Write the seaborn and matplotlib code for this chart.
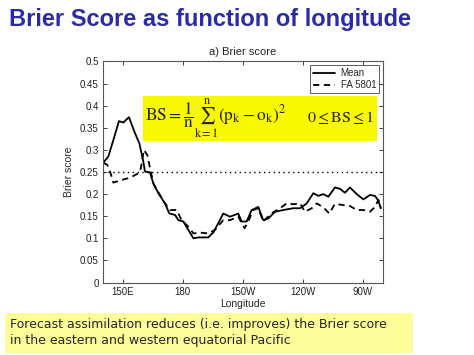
import numpy as np
import pandas as pd
import matplotlib.pyplot as plt
import seaborn as sns
from matplotlib.patches import Rectangle

# longitude in degrees east
lon_mean = [140.3, 142.8, 145.3, 148.1, 150.3, 153.1, 156.1, 158.3, 160.3, 161.1,
            163.6, 165.3, 167.8, 171.1, 173.3, 176.1, 177.8, 180.3, 183.3, 185.3,
            187.8, 192.7, 195.2, 197.7, 200.2, 203.6, 207.7, 209.4, 211.9, 214.4,
            217.7, 220.2, 222.7, 226.1, 230.2, 235.2, 238.6, 241.9, 245.2, 247.7,
            250.2, 252.7, 256.0, 258.5, 261.0, 263.5, 266.9, 270.2, 273.5, 276.0,
            277.7, 278.9]
bs_mean = [0.271, 0.285, 0.322, 0.365, 0.362, 0.374, 0.338, 0.315, 0.273, 0.251,
           0.249, 0.224, 0.202, 0.179, 0.156, 0.153, 0.141, 0.138, 0.115, 0.100,
           0.102, 0.102, 0.113, 0.134, 0.156, 0.149, 0.156, 0.138, 0.138, 0.164,
           0.171, 0.141, 0.145, 0.160, 0.164, 0.168, 0.168, 0.179, 0.202, 0.196,
           0.200, 0.194, 0.215, 0.212, 0.203, 0.215, 0.200, 0.188, 0.198, 0.196,
           0.185, 0.168]

lon_fa = [140.3, 142.3, 143.7, 145.3, 149.5, 153.6, 157.8, 159.0, 160.6, 162.3,
          163.3, 165.3, 168.6, 171.1, 173.6, 176.9, 179.4, 182.8, 185.3, 188.6,
          192.7, 196.1, 200.2, 203.6, 207.7, 210.9, 212.7, 215.2, 217.7, 220.2,
          224.1, 228.6, 231.9, 235.2, 238.6, 241.0, 244.4, 246.9, 250.2, 253.2,
          256.0, 260.2, 263.5, 266.9, 270.2, 273.5, 276.0, 277.7, 278.9]
bs_fa = [0.271, 0.266, 0.251, 0.226, 0.232, 0.237, 0.247, 0.258, 0.300, 0.288,
         0.266, 0.224, 0.198, 0.179, 0.164, 0.164, 0.141, 0.126, 0.111, 0.113,
         0.111, 0.119, 0.141, 0.141, 0.149, 0.123, 0.138, 0.164, 0.168, 0.138,
         0.156, 0.168, 0.179, 0.177, 0.179, 0.160, 0.168, 0.179, 0.170, 0.156,
         0.178, 0.175, 0.173, 0.164, 0.164, 0.160, 0.171, 0.187, 0.168]

xtick_vals = [150, 180, 210, 240, 270]
xtick_labels = ['150E', '180', '150W', '120W', '90W']
ytick_vals = [0, 0.05, 0.1, 0.15, 0.2, 0.25, 0.3, 0.35, 0.4, 0.45, 0.5]
ytick_labels = ['0', '0.05', '0.1', '0.15', '0.2', '0.25', '0.3', '0.35', '0.4', '0.45', '0.5']
climatology = 0.25

sns.set_style('white')
plt.rcParams['font.family'] = ['Liberation Sans', 'DejaVu Sans']
plt.rcParams['mathtext.fontset'] = 'stix'

fig = plt.figure(figsize=(4.74, 3.55), dpi=100)
ax = fig.add_axes([0.2167, 0.2042, 0.5913, 0.6226])

df_mean = pd.DataFrame({'lon': lon_mean, 'bs': bs_mean})
df_fa = pd.DataFrame({'lon': lon_fa, 'bs': bs_fa})
sns.lineplot(data=df_mean, x='lon', y='bs', ax=ax, color='black', lw=1.3,
             label='Mean', sort=False, zorder=2)
sns.lineplot(data=df_fa, x='lon', y='bs', ax=ax, color='black', lw=1.3,
             linestyle=(0, (3.5, 2.5)), label='FA 5801', sort=False, zorder=2)
ax.axhline(climatology, color='black', lw=1.0, linestyle=(0, (1, 2.5)), zorder=1)

ax.set_xlim(140, 280)
ax.set_ylim(0, 0.5)
ax.set_xticks(xtick_vals)
ax.set_xticklabels(xtick_labels)
ax.set_yticks(ytick_vals)
ax.set_yticklabels(ytick_labels)
ax.tick_params(direction='in', length=3, width=0.6, labelsize=7, top=True, right=True,
               bottom=True, left=True, pad=3, colors='#222222')
for s in ax.spines.values():
    s.set_color('#555555')
    s.set_linewidth(0.8)
ax.set_xlabel('Longitude', fontsize=7.5, labelpad=2)
ax.set_ylabel('Brier score', fontsize=7.5, labelpad=4)
ax.set_title('a) Brier score', fontsize=8, pad=5)

leg = ax.legend(loc='upper right', fontsize=7, frameon=True, fancybox=False,
                handlelength=2.2, borderpad=0.3, labelspacing=0.2,
                borderaxespad=0.4, handletextpad=0.6)
leg.get_frame().set_edgecolor('#333333')
leg.get_frame().set_linewidth(0.7)
leg.set_zorder(5)

# formula box
ax.add_patch(Rectangle((0.301, 0.603), 0.494, 0.127, transform=fig.transFigure,
                       facecolor='#f8f800', edgecolor='none', zorder=3, clip_on=False))
ax.text(0.305, 0.665, r'$\mathrm{BS}=\dfrac{1}{\mathrm{n}}\sum_{\mathrm{k=1}}^{\mathrm{n}}(\mathrm{p_k}-\mathrm{o_k})^2$',
        transform=fig.transFigure, fontsize=12.5, va='center', ha='left', zorder=4)
ax.text(0.790, 0.668, r'$0\leq\mathrm{BS}\leq1$', transform=fig.transFigure,
        fontsize=11.5, va='center', ha='right', zorder=4)

# slide title
fig.text(0.02, 0.945, 'Brier Score as function of longitude', fontsize=17,
         fontweight='bold', color='#2b2ba6', va='center', ha='left')

# bottom note
fig.patches.append(Rectangle((0.0105, 0.006), 0.861, 0.113, transform=fig.transFigure,
                             facecolor='#fdfd9a', edgecolor='none', zorder=0))
fig.text(0.021, 0.062, 'Forecast assimilation reduces (i.e. improves) the Brier score\n'
         'in the eastern and western equatorial Pacific', fontsize=9,
         family='DejaVu Sans', va='center', ha='left', linespacing=1.3)

fig.savefig('out.png', dpi=100)
